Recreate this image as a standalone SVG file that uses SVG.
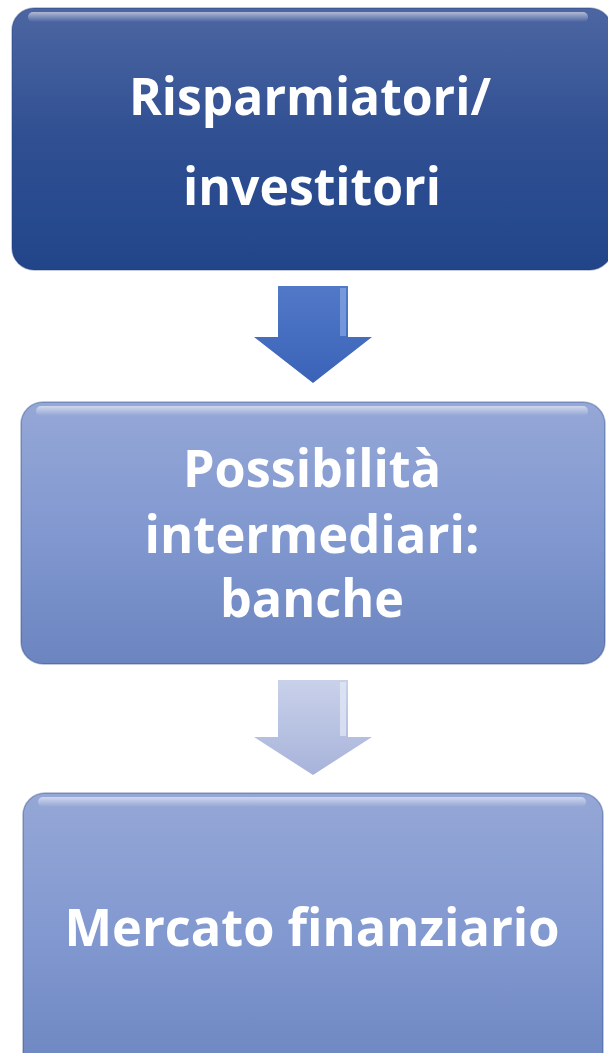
<svg xmlns="http://www.w3.org/2000/svg" width="608" height="1053" viewBox="0 0 608 1053">
<defs>
<linearGradient id="gDark" x1="0" y1="0" x2="0" y2="1">
<stop offset="0" stop-color="#4d66a2"/>
<stop offset="0.5" stop-color="#2f4f92"/>
<stop offset="1" stop-color="#22458a"/>
</linearGradient>
<linearGradient id="gLight" x1="0" y1="0" x2="0" y2="1">
<stop offset="0" stop-color="#95a7d6"/>
<stop offset="0.5" stop-color="#8198d0"/>
<stop offset="1" stop-color="#6c85c0"/>
</linearGradient>
<linearGradient id="gArrow1" x1="0" y1="0" x2="0" y2="1">
<stop offset="0" stop-color="#5279c8"/>
<stop offset="1" stop-color="#3a63b8"/>
</linearGradient>
<linearGradient id="gArrow2" x1="0" y1="0" x2="0" y2="1">
<stop offset="0" stop-color="#c9d1ea"/>
<stop offset="1" stop-color="#a7b3da"/>
</linearGradient>
<linearGradient id="gGloss" x1="0" y1="0" x2="0" y2="1">
<stop offset="0" stop-color="#ffffff" stop-opacity="0.55"/>
<stop offset="1" stop-color="#ffffff" stop-opacity="0"/>
</linearGradient>
</defs>
<style>
.lbl{font-family:"Open Sans","Noto Sans","Liberation Sans",sans-serif;font-weight:bold;fill:#ffffff;text-anchor:middle;font-size:52px}
.edge{stroke:#1b3a78;stroke-opacity:0.35;stroke-width:1.5}
.gloss{fill:url(#gGloss)}
</style>
<g id="node1">
<rect x="12" y="8" width="600" height="262" rx="22" fill="url(#gDark)" class="edge"/>
<rect x="28" y="12" width="560" height="10" rx="5" class="gloss"/>
<text class="lbl" x="310" y="115" textLength="362" lengthAdjust="spacingAndGlyphs">Risparmiatori/</text>
<text class="lbl" x="312" y="205" textLength="258" lengthAdjust="spacingAndGlyphs">investitori</text>
</g>
<g id="node2">
<rect x="21" y="402" width="584" height="262" rx="22" fill="url(#gLight)" class="edge"/>
<rect x="36" y="406" width="552" height="10" rx="5" class="gloss"/>
<text class="lbl" x="312" y="487" textLength="258" lengthAdjust="spacingAndGlyphs">Possibilità</text>
<text class="lbl" x="312" y="553" textLength="335" lengthAdjust="spacingAndGlyphs">intermediari:</text>
<text class="lbl" x="312" y="617" textLength="184" lengthAdjust="spacingAndGlyphs">banche</text>
</g>
<g id="node3">
<rect x="23" y="793" width="580" height="290" rx="22" fill="url(#gLight)" class="edge"/>
<rect x="38" y="797" width="548" height="10" rx="5" class="gloss"/>
<text class="lbl" x="312" y="946" textLength="495" lengthAdjust="spacingAndGlyphs">Mercato finanziario</text>
</g>
<g id="connectors">
<path d="M278 286 H348 V337 H372 L313 383 L254 337 H278 Z" fill="url(#gArrow1)"/>
<path d="M340 288 H346 V336 H340 Z" fill="#8fb0ea" opacity="0.6"/>
<path d="M278 680 H348 V737 H372 L313 775 L254 737 H278 Z" fill="url(#gArrow2)"/>
<path d="M340 682 H346 V736 H340 Z" fill="#e4eaf8" opacity="0.7"/>
</g>
</svg>
